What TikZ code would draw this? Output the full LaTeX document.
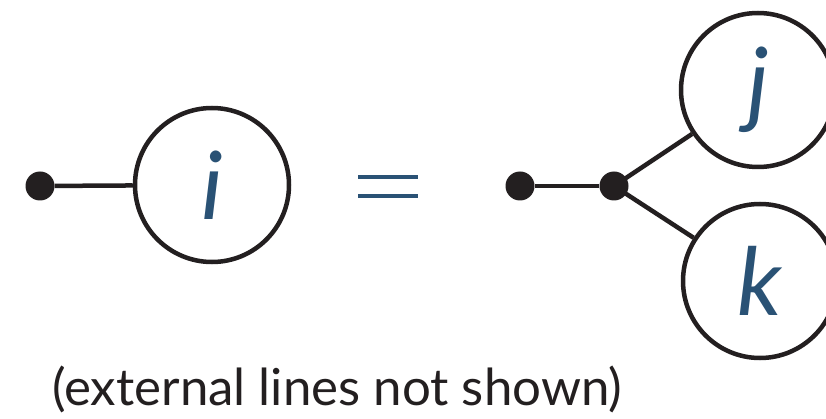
\documentclass[tikz,border=0pt]{standalone}
\usepackage{fontspec}
\setmainfont{Lato}
\definecolor{labelblue}{HTML}{2A5275}
\definecolor{inkdark}{HTML}{231F20}
\begin{document}
\begin{tikzpicture}[x=1pt,y=-1pt,
  blob/.style={circle,draw=inkdark,line width=4.5pt,minimum size=154pt,inner sep=0pt,
    font=\fontsize{94}{94}\selectfont\itshape,text=labelblue},
  vdot/.style={circle,fill=inkdark,minimum size=29pt,inner sep=0pt},
  edge/.style={draw=inkdark,line width=4.5pt},
  eqbar/.style={draw=labelblue,line width=4.5pt}]
\useasboundingbox (0,0) rectangle (826,419);
\node[vdot] (d1) at (40,186) {};
\node[blob] (i) at (212,185) {i};
\draw[edge] (d1) -- (i);
\coordinate (e1a) at (358,177); \coordinate (e1b) at (418,177);
\coordinate (e2a) at (358,196); \coordinate (e2b) at (418,196);
\draw[eqbar] (e1a) -- (e1b);
\draw[eqbar] (e2a) -- (e2b);
\node[vdot] (d2) at (520,186) {};
\node[vdot] (d3) at (614,186) {};
\node[blob] (j) at (758,90) {j};
\node[blob] (k) at (760,281) {k};
\draw[edge] (d2) -- (d3);
\draw[edge] (d3.center) -- (j);
\draw[edge] (d3.center) -- (k);
\node[anchor=base west,inner sep=0pt,font=\fontsize{51}{51}\selectfont,text=inkdark] (cap) at (52,405) {(external lines not shown)};
\end{tikzpicture}
\end{document}
